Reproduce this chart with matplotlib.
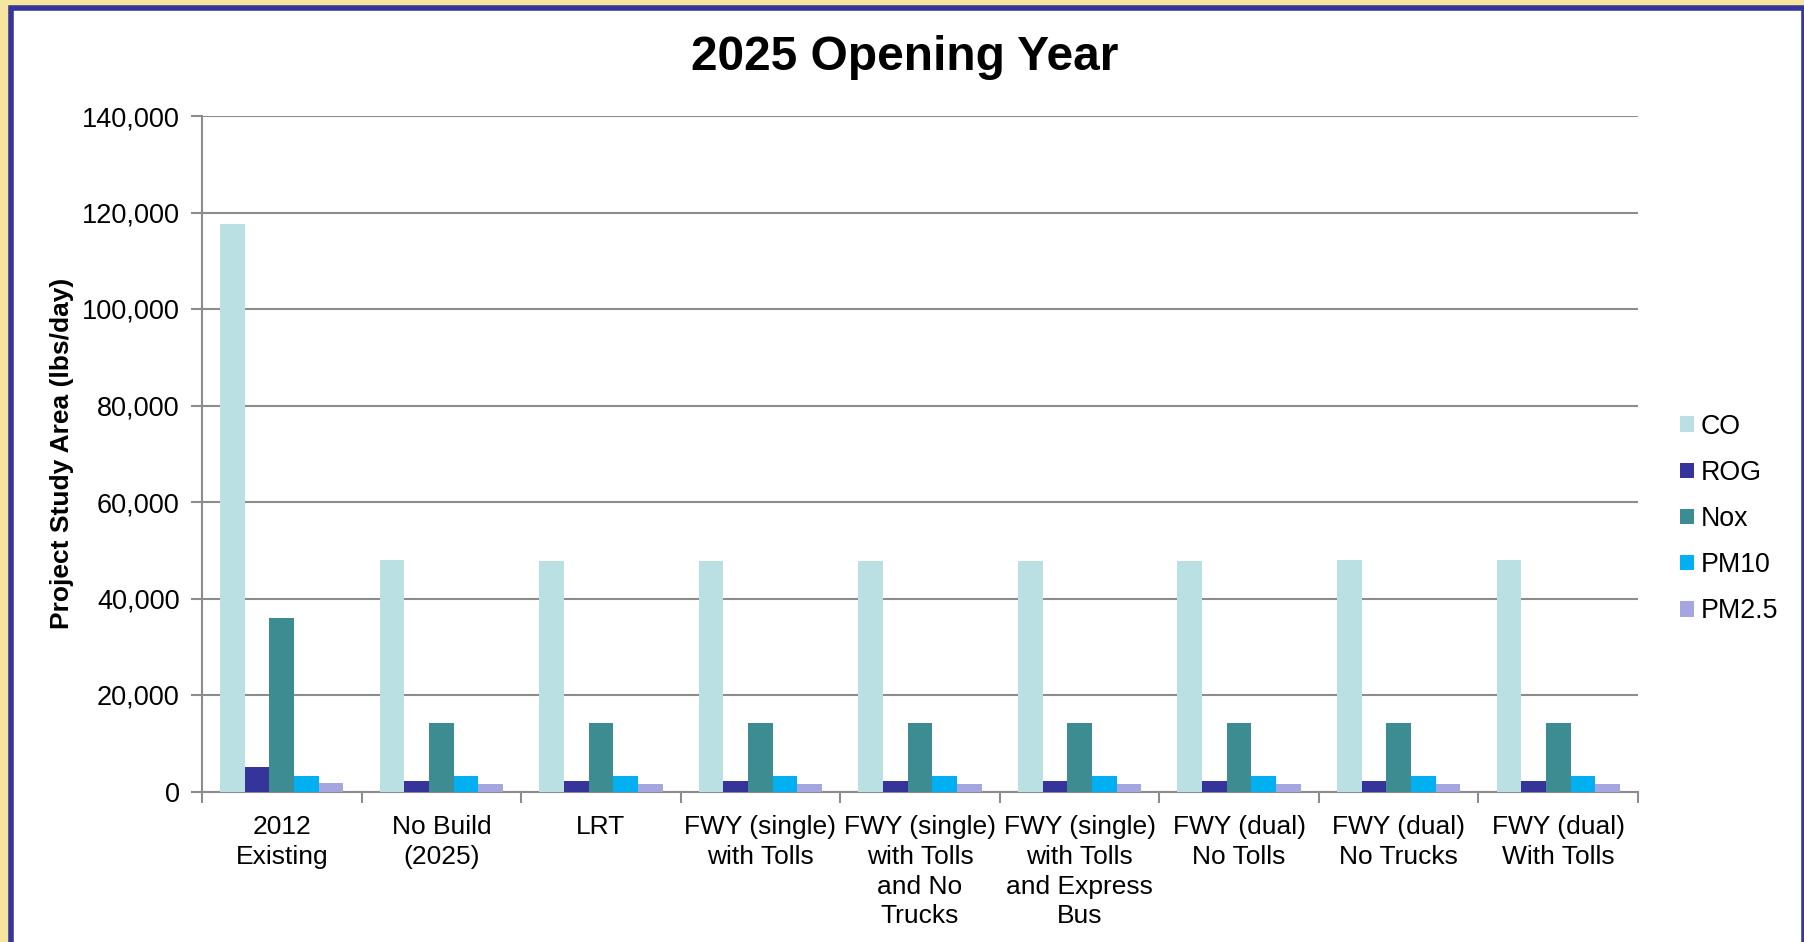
import matplotlib
matplotlib.use("Agg")
import matplotlib.pyplot as plt
import matplotlib.ticker as mtick
from matplotlib.patches import Rectangle, Patch
import numpy as np

plt.rcParams['font.family'] = ['Liberation Sans', 'DejaVu Sans']

# scenarios (x categories)
scenarios = ['2012\nExisting', 'No Build\n(2025)', 'LRT', 'FWY (single)\nwith Tolls',
             'FWY (single)\nwith Tolls\nand No\nTrucks', 'FWY (single)\nwith Tolls\nand Express\nBus',
             'FWY (dual)\nNo Tolls', 'FWY (dual)\nNo Trucks', 'FWY (dual)\nWith Tolls']

# emissions, lbs/day
co    = [117600, 47950, 47850, 47750, 47750, 47750, 47850, 47950, 47950]
rog   = [5150, 2100, 2100, 2100, 2100, 2100, 2100, 2100, 2100]
nox   = [35900, 14200, 14200, 14200, 14200, 14200, 14200, 14200, 14200]
pm10  = [3250, 3150, 3200, 3200, 3200, 3200, 3200, 3200, 3200]
pm25  = [1750, 1500, 1500, 1500, 1500, 1500, 1500, 1500, 1500]

series = [('CO', co, '#BAE0E3'), ('ROG', rog, '#35349A'), ('Nox', nox, '#3C8C91'),
          ('PM10', pm10, '#00B0F0'), ('PM2.5', pm25, '#A5A5E0')]

W, H = 1804, 942
fig = plt.figure(figsize=(W / 100, H / 100), dpi=100)
fig.patch.set_facecolor('#F6E59E')

# white panel with blue border
panel = Rectangle((10.5 / W, -0.05), (1803.5 - 10.5) / W, (H - 8) / H + 0.05,
                  transform=fig.transFigure, facecolor='white', edgecolor='#36359B',
                  linewidth=4, zorder=-1)
fig.add_artist(panel)

ax_w = 1638 - 202
ax = fig.add_axes([202 / W, 1 - 791.5 / H, ax_w / W, (791.5 - 116) / H])
ax.set_facecolor('none')

x = np.arange(len(scenarios))
bw = 0.1546
for i, (name, vals, col) in enumerate(series):
    ax.bar(x + (i - 2) * bw, vals, bw, color=col, label=name, zorder=3)

ax.set_xlim(-0.5, len(scenarios) - 0.5)
ax.set_ylim(0, 140000)
ax.yaxis.set_major_locator(mtick.MultipleLocator(20000))
ax.yaxis.set_major_formatter(mtick.StrMethodFormatter('{x:,.0f}'))
ax.grid(axis='y', color='#8c8c8c', linewidth=1.5, zorder=0)

ax.set_xticks(x)
ax.set_xticklabels(scenarios, fontsize=19, linespacing=1.3, va='top')
ax.set_xticks(np.arange(-0.5, len(scenarios)), minor=True)
ax.tick_params(axis='x', which='major', length=0, pad=17)
ax.tick_params(axis='x', which='minor', length=8, width=1.5, color='#8c8c8c')
ax.tick_params(axis='y', length=8, width=1.5, color='#8c8c8c', labelsize=19.5, pad=8)

for s in ['top', 'right']:
    ax.spines[s].set_visible(False)
for s in ['left', 'bottom']:
    ax.spines[s].set_color('#8c8c8c')
    ax.spines[s].set_linewidth(1.5)

ax.set_ylabel('Project Study Area (lbs/day)', fontsize=19, fontweight='bold')
ax.yaxis.set_label_coords((74 - 202) / ax_w, 0.5)

fig.text(905 / W, 1 - 58 / H, '2025 Opening Year', fontsize=34.5, fontweight='bold',
         ha='center', va='center')

handles = [Patch(facecolor=c) for _, _, c in series]
fig.legend(handles, [n for n, _, _ in series], loc='center left',
           bbox_to_anchor=(1680 / W, 1 - 519 / H), frameon=False, fontsize=19.3,
           borderpad=0, borderaxespad=0,
           handlelength=0.52, handleheight=0.52, handletextpad=0.25, labelspacing=0.75)

fig.savefig('out.png', dpi=100)
